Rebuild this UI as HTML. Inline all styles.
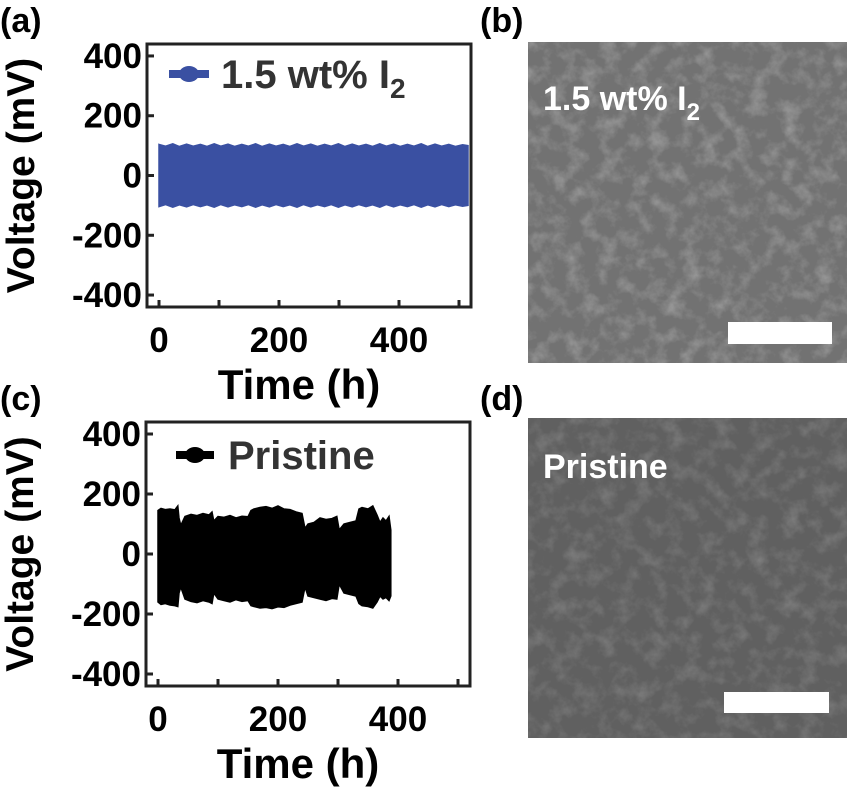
<!DOCTYPE html>
<html><head><meta charset="utf-8"><style>
body{margin:0;background:#fff;}
svg text{font-family:"Liberation Sans",sans-serif;font-weight:bold;}
</style></head><body>
<svg id="fig" width="850" height="793" viewBox="0 0 850 793" xmlns="http://www.w3.org/2000/svg">
<defs>
<filter id="noise" x="0" y="0" width="100%" height="100%"><feTurbulence type="fractalNoise" baseFrequency="0.06" numOctaves="4" seed="7" result="t"/><feColorMatrix in="t" type="matrix" values="0 0 0 0 1  0 0 0 0 1  0 0 0 0 1  1.6 0 0 0 -0.7"/></filter>
</defs>
<text x="0" y="32" font-size="34">(a)</text>
<text x="480" y="32" font-size="34">(b)</text>
<text x="0" y="410" font-size="34">(c)</text>
<text x="480" y="410" font-size="34">(d)</text>

<g>
<rect x="528" y="42" width="319" height="321" fill="#727272"/>
<rect x="528" y="42" width="319" height="321" filter="url(#noise)" opacity="0.35"/>
<text x="543" y="110" font-size="34" fill="#fff">1.5 wt% I<tspan font-size="24" dy="10">2</tspan></text>
<rect x="728" y="322" width="104" height="22" fill="#fff"/>
</g>
<g>
<rect x="528" y="418" width="319" height="320" fill="#606060"/>
<rect x="528" y="418" width="319" height="320" filter="url(#noise)" opacity="0.22"/>
<text x="543" y="478" font-size="34" fill="#fff">Pristine</text>
<rect x="724" y="692" width="105" height="21" fill="#fff"/>
</g>
<g id="pa"></g><g id="pc"></g>
</svg>
<script>
const yTicks=[400,200,0,-200,-400];
const xTicks=[0,200,400];
const xMinor=[100,300,500];
// panel a: alternating peak amplitudes (mV) per cycle
const blueTimes=[0,11,23,34,46,57,69,80,92,103,115,126,138,149,161,172,184,195,207,218,230,241,253,264,276,287,299,310,322,333,345,356,368,379,391,402,414,425,437,448,460,471,483,494,506,515];
const blueUpper=[104,98,106,97,105,98,104,97,106,98,105,97,104,98,106,97,105,98,104,97,106,98,105,97,104,98,106,97,105,98,104,97,106,98,105,97,104,98,106,97,105,98,104,97,103,100];
const blueLower=[-104,-97,-106,-98,-105,-97,-104,-98,-106,-97,-105,-98,-104,-97,-106,-98,-105,-97,-104,-98,-106,-97,-105,-98,-104,-97,-106,-98,-105,-97,-104,-98,-106,-97,-105,-98,-104,-97,-106,-98,-105,-97,-104,-98,-103,-100];
// panel c: pristine envelope
const blackTimes=[0,5,12,20,28,33,35,38,45,55,65,75,85,90,93,100,110,120,130,140,150,155,160,170,180,190,200,210,220,230,240,245,250,260,270,280,290,298,302,310,320,330,335,340,350,358,365,370,375,380,385,388];
const blackUpper=[145,152,148,150,147,160,120,95,125,132,128,135,130,140,110,125,122,128,120,126,124,145,150,155,158,152,160,150,148,140,135,85,100,105,120,115,118,125,80,100,105,110,150,155,150,160,130,105,120,110,125,80];
const blackLower=[-160,-168,-165,-170,-172,-175,-130,-110,-150,-158,-162,-155,-160,-165,-130,-150,-155,-160,-152,-158,-155,-172,-175,-180,-178,-182,-176,-178,-170,-165,-160,-110,-140,-145,-150,-155,-148,-150,-100,-130,-135,-140,-165,-172,-175,-180,-160,-140,-150,-145,-155,-140];

const NS="http://www.w3.org/2000/svg";
function mk(parent,tag,attrs){const e=document.createElementNS(NS,tag);for(const k in attrs)e.setAttribute(k,attrs[k]);parent.appendChild(e);return e;}

function panel(gid,box,color,legend,times,upper,lower,sub){
  const g=document.getElementById(gid);
  const sx=v=>box.x0+(v-(-20))*(box.x1-box.x0)/(540);
  const sy=v=>box.y0+(440-v)*(box.y1-box.y0)/(880);
  const px=box.x0, py=box.y0, w=box.x1-box.x0, h=box.y1-box.y0;
  let pts=[];
  for(let i=0;i<times.length;i++)pts.push(sx(times[i])+','+sy(upper[i]));
  for(let i=times.length-1;i>=0;i--)pts.push(sx(times[i])+','+sy(lower[i]));
  const band=mk(g,'polygon',{points:pts.join(' '),fill:color,stroke:color,'stroke-width':1.5});
  
  
  const fr=mk(g,'rect',{x:px,y:py,width:w,height:h,fill:'none',stroke:'#222','stroke-width':3});
  
  
  yTicks.forEach(v=>{
    mk(g,'line',{x1:px,x2:px+7,y1:sy(v),y2:sy(v),stroke:'#222','stroke-width':3});
    const t=mk(g,'text',{x:px-5,y:sy(v)+12,'font-size':35,'text-anchor':'end'});t.textContent=v;
    
    
  });
  xTicks.concat(xMinor).forEach(v=>mk(g,'line',{x1:sx(v),x2:sx(v),y1:py+h,y2:py+h-7,stroke:'#222','stroke-width':3}));
  xTicks.forEach(v=>{
    const t=mk(g,'text',{x:sx(v),y:py+h+45,'font-size':35,'text-anchor':'middle'});t.textContent=v;
    
    
  });
  const yt=mk(g,'text',{x:0,y:0,'font-size':39,'text-anchor':'middle',transform:`translate(${px-113},${py+h/2}) rotate(-90)`});
  yt.textContent='Voltage (mV)';
  
  
  const xt=mk(g,'text',{x:px+w/2-10,y:py+h+92,'font-size':42,'text-anchor':'middle'});
  xt.textContent='Time (h)';
  
  
  const lg=mk(g,'g',{});
  
  
  const ly=py+(sub?30:33);
  mk(lg,'line',{x1:px+(sub?22:30),x2:px+(sub?62:68),y1:ly,y2:ly,stroke:color,'stroke-width':8});
  mk(lg,'ellipse',{cx:px+(sub?42:49),cy:ly,rx:10,ry:8,fill:color});
  const lt=mk(lg,'text',{x:px+(sub?74:82),y:ly+14,'font-size':40,fill:'#333'});
  lt.textContent=legend;
  if(sub){const s=mk(lt,'tspan',{'font-size':28,dy:10,fill:'#333'});s.textContent='2';}
}
panel('pa',{x0:147,x1:471,y0:44,y1:307},'#3a50a2','1.5 wt% I',blueTimes,blueUpper,blueLower,true);
panel('pc',{x0:146,x1:470,y0:422,y1:686},'#000','Pristine',blackTimes,blackUpper,blackLower,false);
</script>
</body></html>
